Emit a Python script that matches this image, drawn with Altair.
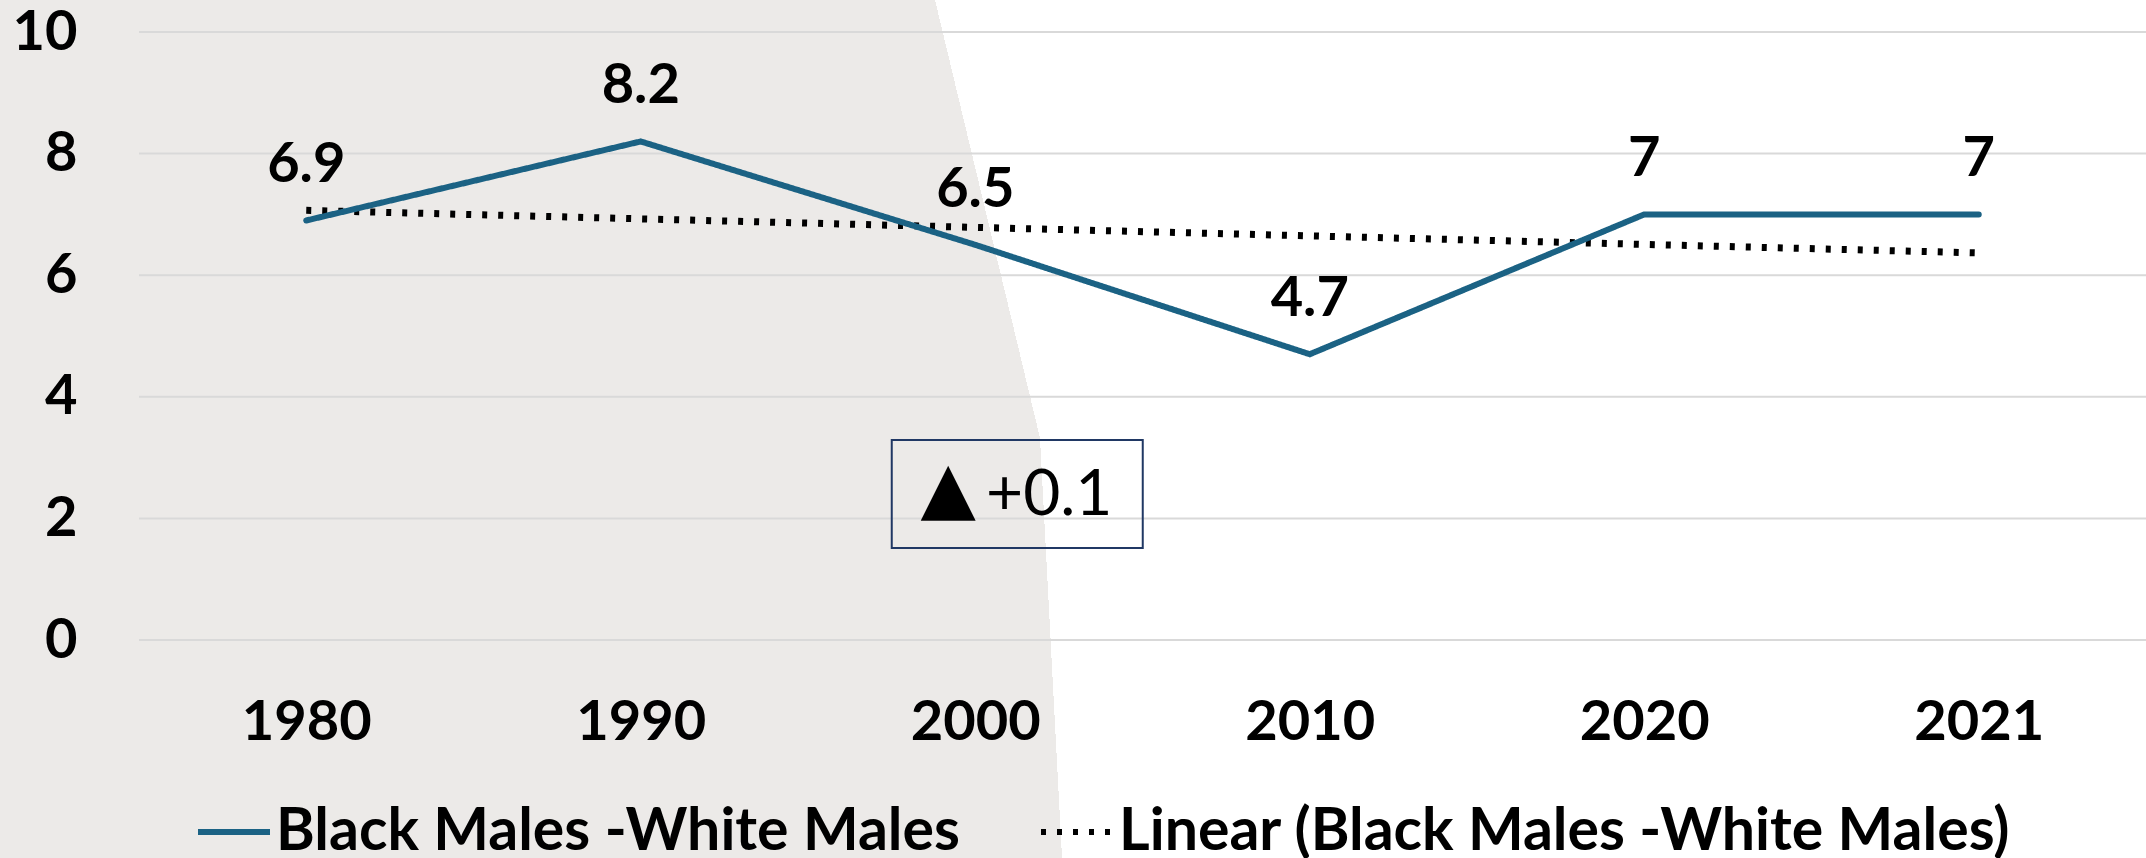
import altair as alt
import numpy as np
import pandas as pd

# ---- data ----
YEARS = ["1980", "1990", "2000", "2010", "2020", "2021"]
GAP = [6.9, 8.2, 6.5, 4.7, 7.0, 7.0]
SERIES = "Black Males -White Males"
TREND = "Linear (Black Males -White Males)"
Y_TICKS = [0, 2, 4, 6, 8, 10]
ANNOT_YEAR = ["2000"]
ANNOT_VALUE = [2.4]
ANNOT_MARK = ["\u25B2"]
ANNOT_TEXT = ["+0.1"]

# ---- styles ----
FONT = "Lato"
BLUE = "#1B6284"
GREY_BG = "#ECEAE8"
GRID = "#D9D9D9"
NAVY = "#203864"
W, H = 2007, 608
PAD_L, PAD_T, PAD_R, PAD_B = 139, 32, 0, 218
TOTAL_W, TOTAL_H = W + PAD_L + PAD_R, H + PAD_T + PAD_B

# Excel-style linear trendline of the series
idx = np.arange(len(YEARS))
slope, intercept = np.polyfit(idx, GAP, 1)
trend_vals = intercept + slope * idx

df = pd.concat([
    pd.DataFrame({"year": YEARS, "value": GAP, "series": SERIES}),
    pd.DataFrame({"year": YEARS, "value": trend_vals, "series": TREND}),
], ignore_index=True)
ann = pd.DataFrame({"year": ANNOT_YEAR, "value": ANNOT_VALUE,
                    "mark": ANNOT_MARK, "label": ANNOT_TEXT})
ticks = pd.DataFrame({"tick": Y_TICKS})
one = pd.DataFrame({"bg": [0]})

x_axis = alt.Axis(title=None, labelAngle=0, ticks=False, domain=False, grid=False, zindex=2,
                  labelFont=FONT, labelFontWeight="bold", labelFontSize=56,
                  labelColor="black", labelPadding=82, labelBaseline="middle")
y_axis = alt.Axis(title=None, values=Y_TICKS, ticks=False, domain=False, grid=False, zindex=2,
                  labelFont=FONT, labelFontWeight="bold", labelFontSize=56,
                  labelColor="black", labelPadding=62)
x_scale = alt.Scale(domain=YEARS)
y_scale = alt.Scale(domain=[0, 10], nice=False)

def X():
    return alt.X("year:N", sort=YEARS, scale=x_scale, axis=x_axis)

def Y(field="value"):
    return alt.Y(f"{field}:Q", scale=y_scale, axis=y_axis)

def edge_gradient(x_top, x_bot):
    xt, xb = x_top / TOTAL_W, x_bot / TOTAL_W
    d = xb - xt
    e = (xt + d * d) / (1 + d * d)
    return alt.LinearGradient(
        gradient="linear", x1=0, y1=d, x2=1, y2=0,
        stops=[alt.GradientStop(offset=0, color=GREY_BG),
               alt.GradientStop(offset=e, color=GREY_BG),
               alt.GradientStop(offset=e, color="white"),
               alt.GradientStop(offset=1, color="white")])

# decorative grey backdrop (two slanted sections)
split = 438
bg_top = alt.Chart(one).mark_rect(fill=edge_gradient(935, 1040)).encode(
    x=alt.value(-PAD_L), x2=alt.value(W + PAD_R),
    y=alt.value(-PAD_T), y2=alt.value(split - PAD_T))
bg_bot = alt.Chart(one).mark_rect(fill=edge_gradient(1040, 1062)).encode(
    x=alt.value(-PAD_L), x2=alt.value(W + PAD_R),
    y=alt.value(split - PAD_T), y2=alt.value(H + PAD_B))

grid = alt.Chart(ticks).mark_rule(color=GRID, strokeWidth=2).encode(y=Y("tick"))

color = alt.Color("series:N", scale=alt.Scale(domain=[SERIES, TREND], range=[BLUE, "black"]),
                  legend=alt.Legend(orient="none", legendX=56, legendY=761, direction="horizontal",
                                    title=None, symbolType="stroke", symbolSize=5184,
                                    symbolStrokeWidth=6, labelFont=FONT, labelFontWeight="bold",
                                    labelFontSize=59, labelColor="black", labelLimit=2000,
                                    columnPadding=69, labelOffset=3, padding=0))
dash = alt.StrokeDash("series:N", scale=alt.Scale(domain=[SERIES, TREND], range=[[1, 0], [5, 11]]),
                      legend=None)

main_line = alt.Chart(df).transform_filter(alt.datum.series == SERIES).mark_line(
    strokeWidth=6, strokeCap="round", strokeJoin="miter").encode(
    x=X(), y=Y(), color=color, strokeDash=dash)
trend_line = alt.Chart(df).transform_filter(alt.datum.series == TREND).mark_line(
    strokeWidth=7, strokeCap="butt").encode(
    x=X(), y=Y(), color=color, strokeDash=dash)

labels = alt.Chart(df).transform_filter(alt.datum.series == SERIES).mark_text(
    dy=-55, font=FONT, fontWeight="bold", fontSize=56, color="black", baseline="middle").encode(
    x=X(), y=Y(), text=alt.Text("value:Q", format=".1~f"))

BOX_W, BOX_H = 251, 108
half_h = BOX_H / BOX_W
box_path = f"M-1,-{half_h:.4f}L1,-{half_h:.4f}L1,{half_h:.4f}L-1,{half_h:.4f}Z"
box = alt.Chart(ann).mark_point(shape=box_path, size=BOX_W ** 2, filled=False, stroke=NAVY,
                                strokeWidth=2, opacity=1, xOffset=42).encode(x=X(), y=Y())
box_mark = alt.Chart(ann).mark_text(xOffset=-27, yOffset=-4, font="DejaVu Sans", fontSize=72,
                                    color="black", align="center", baseline="middle").encode(
    x=X(), y=Y(), text="mark:N")
box_text = alt.Chart(ann).mark_text(xOffset=74, yOffset=2, font=FONT, fontSize=64, color="black",
                                    align="center", baseline="middle").encode(
    x=X(), y=Y(), text="label:N")

chart = alt.layer(bg_top, bg_bot, grid, trend_line, main_line, labels, box, box_mark, box_text).properties(
    width=W, height=H,
    autosize=alt.AutoSizeParams(type="none"),
    padding={"left": PAD_L, "top": PAD_T, "right": PAD_R, "bottom": PAD_B},
).configure_view(stroke=None).configure(background="white")

chart.save("out.html", embed_options={"renderer": "svg", "actions": False})
